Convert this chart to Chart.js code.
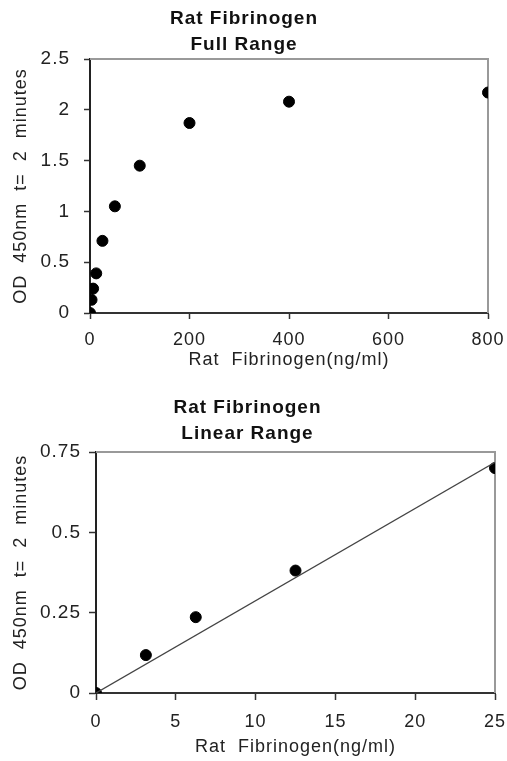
<!DOCTYPE html>
<html>
<head>
<meta charset="utf-8">
<script src="https://cdn.jsdelivr.net/npm/chart.js@4.4.1/dist/chart.umd.min.js"></script>
<style>
  body { margin: 0; background: #fff; }
  .box { position: relative; width: 507px; }
  canvas { display: block; }
</style>
</head>
<body>
<div class="box" style="height:380px"><canvas id="full"></canvas></div>
<div class="box" style="height:381px"><canvas id="linear"></canvas></div>
<script>
// concentrations (ng/ml) and OD readings
const fullX = [0, 3.125, 6.25, 12.5, 25, 50, 100, 200, 400, 800];
const fullY = [0, 0.13, 0.24, 0.39, 0.71, 1.05, 1.45, 1.87, 2.08, 2.17];

const linX = [0, 3.125, 6.25, 12.5, 25];
const linY = [0, 0.118, 0.236, 0.381, 0.70];

// trend line end points
const trendX = [0, 25];
const trendY = [0, 0.718];

const fullYTicks = [0, 0.5, 1, 1.5, 2, 2.5];
const fullXTicks = [0, 200, 400, 600, 800];
const linYTicks = [0, 0.25, 0.5, 0.75];
const linXTicks = [0, 5, 10, 15, 20, 25];

const FONT = "'Liberation Sans', Arial, sans-serif";
const TXT = '#222';

function pts(xs, ys) {
    return xs.map((x, i) => ({x: x, y: ys[i]}));
}

// the original text is drawn a bit wider, so space the letters out
const spacing = {
    id: 'spacing',
    beforeLayout(chart) { chart.ctx.letterSpacing = '1px'; },
    beforeDraw(chart) { chart.ctx.letterSpacing = '1px'; }
};

// grey frame on top and right like the original plot box
const frame = {
    id: 'frame',
    beforeDatasetsDraw(chart) {
        const a = chart.chartArea;
        const ctx = chart.ctx;
        ctx.save();
        ctx.strokeStyle = '#999';
        ctx.lineWidth = 2;
        ctx.beginPath();
        ctx.moveTo(a.left, a.top);
        ctx.lineTo(a.right, a.top);
        ctx.lineTo(a.right, a.bottom);
        ctx.stroke();
        ctx.restore();
    }
};

function makeChart(id, cfg) {
    const ctx = document.getElementById(id).getContext('2d');
    return new Chart(ctx, {
        type: 'scatter',
        data: { datasets: cfg.datasets },
        options: {
            responsive: true,
            maintainAspectRatio: false,
            animation: false,
            layout: { padding: { left: 0, right: cfg.right, top: 0, bottom: 0 } },
            plugins: {
                legend: { display: false },
                tooltip: { enabled: false },
                title: {
                    display: true,
                    text: cfg.title,
                    color: '#111',
                    font: { family: FONT, size: 19, weight: 'bold', lineHeight: 26 / 19 },
                    padding: cfg.titlePad
                }
            },
            scales: {
                x: {
                    type: 'linear',
                    min: cfg.xTicks[0],
                    max: cfg.xTicks[cfg.xTicks.length - 1],
                    afterBuildTicks: (s) => { s.ticks = cfg.xTicks.map(v => ({value: v})); },
                    afterFit: (s) => { s.height = cfg.xH; s.paddingLeft = 0; s.paddingRight = 0; },
                    border: { color: '#333', width: 2 },
                    grid: { drawOnChartArea: false, drawTicks: true, tickLength: cfg.tl, color: '#333', tickWidth: 1.5 },
                    ticks: { color: TXT, padding: cfg.xPad, font: { family: FONT, size: 18 }, maxRotation: 0,
                             callback: (v) => String(v) },
                    title: {
                        display: true,
                        text: 'Rat  Fibrinogen(ng/ml)',
                        color: TXT,
                        font: { family: FONT, size: 18 },
                        padding: { top: 0, bottom: cfg.xTitlePad }
                    }
                },
                y: {
                    type: 'linear',
                    min: cfg.yTicks[0],
                    max: cfg.yTicks[cfg.yTicks.length - 1],
                    afterBuildTicks: (s) => { s.ticks = cfg.yTicks.map(v => ({value: v})); },
                    afterFit: (s) => { s.width = cfg.yW; s.paddingTop = 0; s.paddingBottom = 0; },
                    border: { color: '#222', width: 2 },
                    grid: { drawOnChartArea: false, drawTicks: true, tickLength: cfg.tl, color: '#333', tickWidth: 1.5 },
                    ticks: { color: TXT, padding: cfg.yPad, font: { family: FONT, size: 19 },
                             callback: (v) => String(v) },
                    title: {
                        display: true,
                        text: 'OD  450nm  t=  2  minutes',
                        color: TXT,
                        font: { family: FONT, size: 18 },
                        padding: { top: 10, bottom: 0 }
                    }
                }
            }
        },
        plugins: [spacing, frame]
    });
}

const dotStyle = {
    pointRadius: 5.5,
    pointHoverRadius: 5.5,
    pointBackgroundColor: '#000',
    pointBorderColor: '#000',
    showLine: false
};

makeChart('full', {
    title: ['Rat Fibrinogen', 'Full Range'],
    titlePad: { top: 6, bottom: 1 },
    right: 19,
    xTicks: fullXTicks,
    yTicks: fullYTicks,
    yW: 90, xH: 67, tl: 6, xPad: 10, yPad: 14, xTitlePad: 9,
    datasets: [
        Object.assign({ label: 'Full Range', data: pts(fullX, fullY) }, dotStyle)
    ]
});

makeChart('linear', {
    title: ['Rat Fibrinogen', 'Linear Range'],
    titlePad: { top: 15, bottom: 5 },
    right: 12,
    xTicks: linXTicks,
    yTicks: linYTicks,
    yW: 96, xH: 68, tl: 7, xPad: 11, yPad: 8, xTitlePad: 3,
    datasets: [
        {
            label: 'Trend',
            data: pts(trendX, trendY),
            showLine: true,
            borderColor: '#444',
            borderWidth: 1.3,
            pointRadius: 0,
            pointHoverRadius: 0
        },
        Object.assign({ label: 'Linear Range', data: pts(linX, linY) }, dotStyle)
    ]
});
</script>
</body>
</html>
